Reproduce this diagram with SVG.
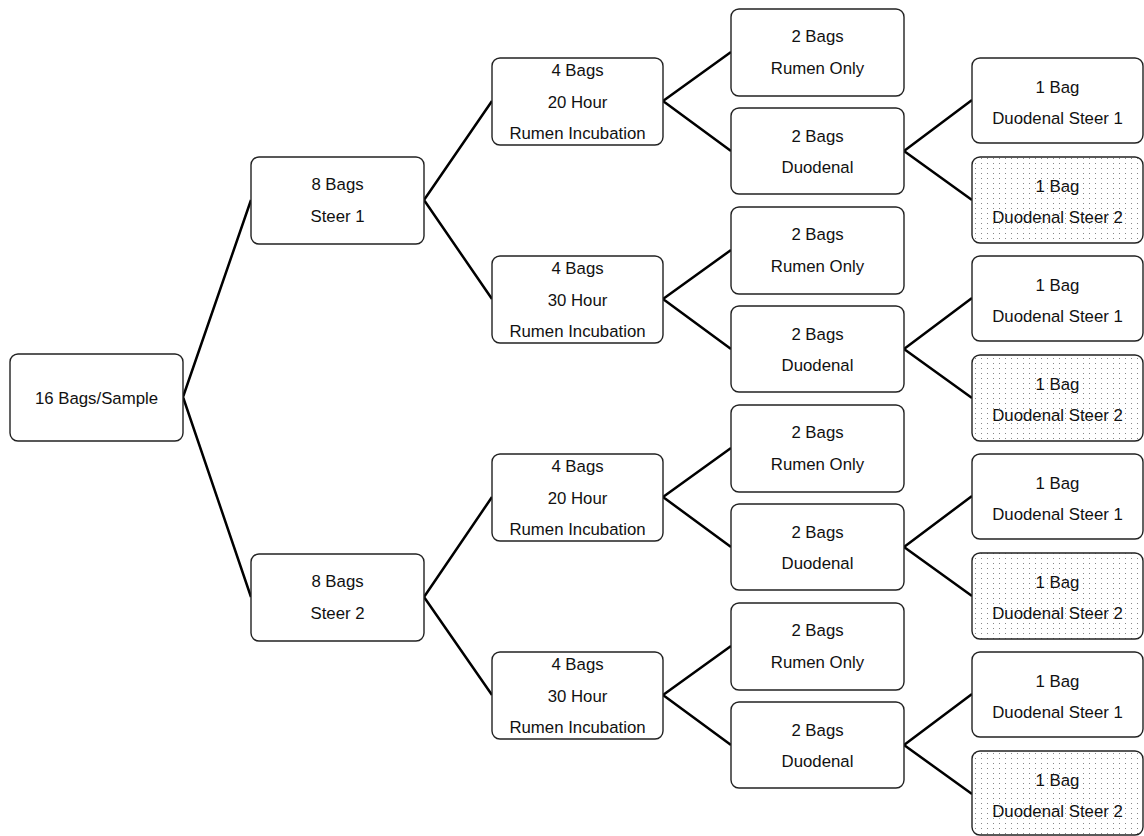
<svg xmlns="http://www.w3.org/2000/svg" width="1144" height="836" viewBox="0 0 1144 836">
<style>
.box{fill:#fff;stroke:#222;stroke-width:1.4}
.dot{fill:url(#dots);stroke:#222;stroke-width:1.4}
.t{font-family:"Liberation Sans",Arial,sans-serif;font-size:16.8px;fill:#111;text-anchor:middle}
.c{stroke:#000;stroke-width:2.5;fill:none}
</style>
<defs>
<pattern id="dots" x="1" y="1" width="6" height="5" patternUnits="userSpaceOnUse">
<rect width="6" height="5" fill="#fff"/>
<rect x="2" y="2" width="1" height="1" fill="#888"/>
</pattern>
</defs>
<rect width="1144" height="836" fill="#fff"/>
<g id="connectors" class="c">
<path d="M183 397L251 200M183 397L251 597"/>
<path d="M424 200L492 101M424 200L492 299M424 597L492 497M424 597L492 695"/>
<path d="M663 101L731 52M663 101L731 151M663 299L731 250M663 299L731 349M663 497L731 448M663 497L731 547M663 695L731 646M663 695L731 745"/>
<path d="M904 151L972 100M904 151L972 200M904 349L972 298M904 349L972 398M904 547L972 496M904 547L972 596M904 745L972 694M904 745L972 794"/>
</g>
<g id="root"><rect class="box" x="10" y="354" width="173" height="87" rx="8"/><text class="t" x="96.5" y="404">16 Bags/Sample</text></g>
<g id="steer1"><rect class="box" x="251" y="157" width="173" height="87" rx="8"/><text class="t" x="337.5" y="190">8 Bags</text><text class="t" x="337.5" y="222">Steer 1</text></g>
<g id="steer2"><rect class="box" x="251" y="554" width="173" height="87" rx="8"/><text class="t" x="337.5" y="587">8 Bags</text><text class="t" x="337.5" y="619">Steer 2</text></g>

<g id="s1h20"><rect class="box" x="492" y="58" width="171" height="87" rx="8"/><text class="t" x="577.5" y="76">4 Bags</text><text class="t" x="577.5" y="108">20 Hour</text><text class="t" x="577.5" y="139">Rumen Incubation</text></g>
<g id="s1h30"><rect class="box" x="492" y="256" width="171" height="87" rx="8"/><text class="t" x="577.5" y="274">4 Bags</text><text class="t" x="577.5" y="306">30 Hour</text><text class="t" x="577.5" y="337">Rumen Incubation</text></g>
<g id="s2h20"><rect class="box" x="492" y="454" width="171" height="87" rx="8"/><text class="t" x="577.5" y="472">4 Bags</text><text class="t" x="577.5" y="504">20 Hour</text><text class="t" x="577.5" y="535">Rumen Incubation</text></g>
<g id="s2h30"><rect class="box" x="492" y="652" width="171" height="87" rx="8"/><text class="t" x="577.5" y="670">4 Bags</text><text class="t" x="577.5" y="702">30 Hour</text><text class="t" x="577.5" y="733">Rumen Incubation</text></g>

<g id="ro1"><rect class="box" x="731" y="9" width="173" height="87" rx="8"/><text class="t" x="817.5" y="42">2 Bags</text><text class="t" x="817.5" y="74">Rumen Only</text></g>
<g id="du1"><rect class="box" x="731" y="108" width="173" height="86" rx="8"/><text class="t" x="817.5" y="142">2 Bags</text><text class="t" x="817.5" y="173">Duodenal</text></g>
<g id="ro2"><rect class="box" x="731" y="207" width="173" height="87" rx="8"/><text class="t" x="817.5" y="240">2 Bags</text><text class="t" x="817.5" y="272">Rumen Only</text></g>
<g id="du2"><rect class="box" x="731" y="306" width="173" height="86" rx="8"/><text class="t" x="817.5" y="340">2 Bags</text><text class="t" x="817.5" y="371">Duodenal</text></g>
<g id="ro3"><rect class="box" x="731" y="405" width="173" height="87" rx="8"/><text class="t" x="817.5" y="438">2 Bags</text><text class="t" x="817.5" y="470">Rumen Only</text></g>
<g id="du3"><rect class="box" x="731" y="504" width="173" height="86" rx="8"/><text class="t" x="817.5" y="538">2 Bags</text><text class="t" x="817.5" y="569">Duodenal</text></g>
<g id="ro4"><rect class="box" x="731" y="603" width="173" height="87" rx="8"/><text class="t" x="817.5" y="636">2 Bags</text><text class="t" x="817.5" y="668">Rumen Only</text></g>
<g id="du4"><rect class="box" x="731" y="702" width="173" height="86" rx="8"/><text class="t" x="817.5" y="736">2 Bags</text><text class="t" x="817.5" y="767">Duodenal</text></g>

<g id="d1s1"><rect class="box" x="972" y="58" width="171" height="85" rx="8"/><text class="t" x="1057.5" y="93">1 Bag</text><text class="t" x="1057.5" y="124">Duodenal Steer 1</text></g>
<g id="d1s2"><rect class="dot" x="972" y="157" width="171" height="86" rx="8"/><text class="t" x="1057.5" y="192">1 Bag</text><text class="t" x="1057.5" y="223">Duodenal Steer 2</text></g>
<g id="d2s1"><rect class="box" x="972" y="256" width="171" height="85" rx="8"/><text class="t" x="1057.5" y="291">1 Bag</text><text class="t" x="1057.5" y="322">Duodenal Steer 1</text></g>
<g id="d2s2"><rect class="dot" x="972" y="355" width="171" height="86" rx="8"/><text class="t" x="1057.5" y="390">1 Bag</text><text class="t" x="1057.5" y="421">Duodenal Steer 2</text></g>
<g id="d3s1"><rect class="box" x="972" y="454" width="171" height="85" rx="8"/><text class="t" x="1057.5" y="489">1 Bag</text><text class="t" x="1057.5" y="520">Duodenal Steer 1</text></g>
<g id="d3s2"><rect class="dot" x="972" y="553" width="171" height="86" rx="8"/><text class="t" x="1057.5" y="588">1 Bag</text><text class="t" x="1057.5" y="619">Duodenal Steer 2</text></g>
<g id="d4s1"><rect class="box" x="972" y="652" width="171" height="85" rx="8"/><text class="t" x="1057.5" y="687">1 Bag</text><text class="t" x="1057.5" y="718">Duodenal Steer 1</text></g>
<g id="d4s2"><rect class="dot" x="972" y="751" width="171" height="84" rx="8"/><text class="t" x="1057.5" y="786">1 Bag</text><text class="t" x="1057.5" y="817">Duodenal Steer 2</text></g>
</svg>
